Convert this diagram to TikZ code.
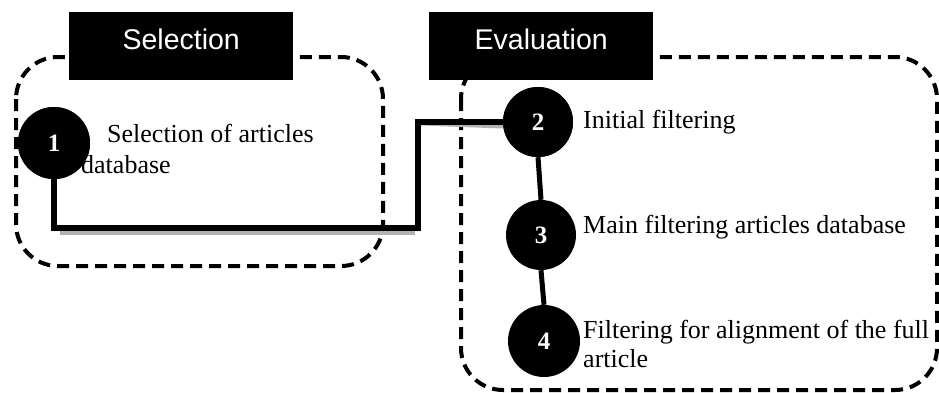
\documentclass[tikz,border=0pt]{standalone}
\usepackage{fontspec}
\setmainfont{Liberation Serif}
\newfontfamily\headfont{Liberation Sans}
\begin{document}
\begin{tikzpicture}[x=1pt,y=-1pt,
  groupbox/.style={draw=black,line width=4pt,dash pattern=on 12pt off 7pt,rounded corners=42pt},
  headbox/.style={fill=black,minimum width=224pt,minimum height=68pt,inner sep=0pt,anchor=north west,text=white,font=\headfont\fontsize{28.5}{30}\selectfont,text depth=0pt},
  stepcircle/.style={circle,fill=black,inner sep=0pt,text=white,font=\bfseries\fontsize{25}{27}\selectfont},
  link/.style={line width=6pt},
  linkshadow/.style={line width=5pt,draw=black!30},
  steptext/.style={anchor=base west,inner sep=0pt,font=\fontsize{26}{29}\selectfont}]
\useasboundingbox (0,0) rectangle (939,392);
\begin{scope}
\clip (0,0) rectangle (939,392);
\draw[groupbox] (16,57) rectangle (383,266);
\draw[groupbox] (461,57) rectangle (937,390);
\end{scope}
\node[headbox] (hsel) at (69,12) {\raisebox{14pt}{Selection}};
\node[headbox] (heval) at (429,12) {\raisebox{14pt}{Evaluation}};
% circles
\node[stepcircle,minimum size=72pt] (c1) at (54,143) {1};
\node[stepcircle,minimum size=70pt] (c2) at (538,122) {2};
\node[stepcircle,minimum size=70pt] (c3) at (541,235) {3};
\node[stepcircle,minimum size=72pt] (c4) at (544,341) {4};
\coordinate (k1) at (57,228);
\coordinate (k2) at (418,228);
\coordinate (k3) at (418,119);
% shadows
\draw[linkshadow] ([xshift=3pt,yshift=-4pt]k1) -- ([xshift=-3pt,yshift=-4pt]k2);
\draw[linkshadow] ([xshift=3pt,yshift=-4pt]k3) -- ([yshift=-4pt]c2.west);
% connectors
\draw[link] (c1.south) |- (k2) |- (c2.west);
\draw[line width=5pt] (c2.south) -- (c3.north);
\draw[line width=5pt] (c3.south) -- (c4.north);
\node[stepcircle,minimum size=72pt] at (c1) {1};
\node[stepcircle,minimum size=70pt] at (c2) {2};
% texts
\node[steptext] (t1a) at (107,142) {Selection of articles};
\node[steptext] (t1b) at (81,173) {database};
\node[steptext] (t2) at (583,128) {Initial filtering};
\node[steptext] (t3) at (583,233) {Main filtering articles database};
\node[steptext] (t4a) at (583,338) {Filtering for alignment of the full};
\node[steptext] (t4b) at (583,367) {article};
\end{tikzpicture}
\end{document}
